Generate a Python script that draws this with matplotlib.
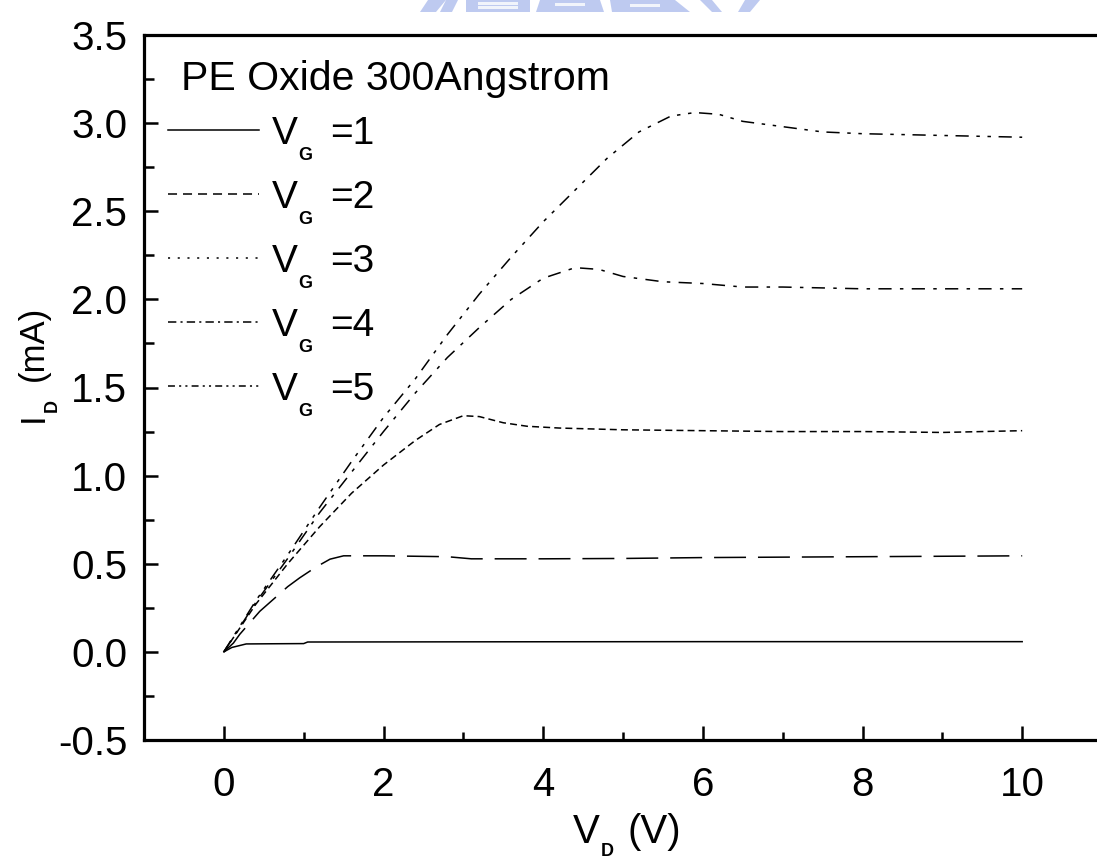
import matplotlib
matplotlib.use("Agg")
import matplotlib.pyplot as plt
from matplotlib.lines import Line2D
from matplotlib.patches import Polygon, Rectangle
from matplotlib.ticker import MultipleLocator, FormatStrFormatter

plt.rcParams['font.family'] = ['Liberation Sans', 'DejaVu Sans']
plt.rcParams['lines.scale_dashes'] = False

# Output characteristics I_D(V_D) for gate voltages 1..5 V
vd_g1 = [0.0, 0.1, 0.28, 0.6, 1.0, 1.05, 3.0, 6.0, 10.0]
id_g1 = [0.0, 0.025, 0.045, 0.046, 0.047, 0.056, 0.057, 0.058, 0.058]

vd_g2 = [0.0, 0.12, 0.2, 0.45, 0.8, 0.95, 1.15, 1.33, 1.5, 2.0, 2.8, 3.1, 4.0, 5.0, 6.0, 8.0, 10.0]
id_g2 = [0.0, 0.05, 0.1, 0.23, 0.37, 0.42, 0.48, 0.526, 0.545, 0.545, 0.54, 0.528, 0.528, 0.53, 0.535, 0.54, 0.545]

vd_g3 = [0.0, 0.4, 0.8, 1.2, 1.6, 2.0, 2.4, 2.7, 3.0, 3.2, 3.5, 3.8, 4.2, 5.0, 6.0, 7.0, 8.0, 9.0, 10.0]
id_g3 = [0.0, 0.27, 0.5, 0.71, 0.9, 1.06, 1.2, 1.29, 1.34, 1.335, 1.30, 1.28, 1.27, 1.26, 1.255, 1.25, 1.25, 1.245, 1.255]

vd_g4 = [0.0, 0.4, 0.8, 1.2, 1.6, 2.0, 2.4, 2.8, 3.2, 3.6, 4.0, 4.4, 4.7, 5.0, 5.5, 6.0, 6.5, 7.0, 8.0, 9.0, 10.0]
id_g4 = [0.0, 0.28, 0.53, 0.79, 1.02, 1.25, 1.47, 1.67, 1.84, 2.0, 2.12, 2.18, 2.17, 2.13, 2.10, 2.09, 2.07, 2.07, 2.06, 2.06, 2.06]

vd_g5 = [0.0, 0.4, 0.8, 1.2, 1.6, 2.0, 2.4, 2.8, 3.2, 3.6, 4.0, 4.4, 4.8, 5.2, 5.6, 5.9, 6.2, 6.5, 7.0, 7.5, 8.0, 9.0, 10.0]
id_g5 = [0.0, 0.29, 0.55, 0.82, 1.08, 1.33, 1.55, 1.80, 2.03, 2.24, 2.44, 2.62, 2.80, 2.95, 3.04, 3.06, 3.05, 3.01, 2.98, 2.95, 2.94, 2.93, 2.92]

series_x = [vd_g1, vd_g2, vd_g3, vd_g4, vd_g5]
series_y = [id_g1, id_g2, id_g3, id_g4, id_g5]
gate_labels = ['1', '2', '3', '4', '5']
legend_title = 'PE Oxide 300Angstrom'

x_ticks = [0, 2, 4, 6, 8, 10]
y_ticks = [-0.5, 0.0, 0.5, 1.0, 1.5, 2.0, 2.5, 3.0, 3.5]

# dash patterns (points) along the curves and in the legend keys
curve_dashes = [None, (23, 8.6), (5, 3), (9.5, 6, 2.5, 6), (9.5, 5.5, 2.5, 5.5, 2.5, 5.5)]
key_dashes = [None, (6.5, 4.3), (1.5, 5.5), (6, 3, 1.5, 3), (5, 3, 1.5, 3, 1.5, 3)]

W, H = 1097, 858
fig = plt.figure(figsize=(W / 100, H / 100), dpi=100)
fig.patch.set_facecolor('white')


def fx(px):
    return px / W


def fy(py):
    return 1 - py / H


# faint logo strip along the top edge
logo_c = '#a9b9ec'
for poly in [
    [(428, 0), (446, 0), (436, 12), (420, 12)],
    [(446, 0), (458, 0), (452, 12), (440, 12)],
    [(466, 0), (530, 0), (530, 12), (466, 12)],
    [(540, 0), (600, 0), (604, 12), (536, 12)],
    [(610, 0), (675, 0), (690, 12), (612, 12)],
    [(700, 0), (712, 0), (722, 12), (712, 12)],
    [(745, 0), (760, 0), (750, 12), (738, 12)],
]:
    fig.patches.append(Polygon([(fx(x), fy(y)) for x, y in poly], closed=True,
                               transform=fig.transFigure, facecolor=logo_c,
                               edgecolor='none', alpha=0.75))
for r in [(478, 2, 40, 2.5), (478, 6.5, 40, 2.5), (555, 3, 30, 3), (630, 4, 30, 3)]:
    fig.patches.append(Rectangle((fx(r[0]), fy(r[1] + r[3])), r[2] / W, r[3] / H,
                                 transform=fig.transFigure, facecolor='white',
                                 edgecolor='none', alpha=0.8))

ax = fig.add_axes([fx(144), fy(740), 958 / W, 705 / H])
ax.set_xlim(-1, 11)
ax.set_ylim(-0.5, 3.5)

lw = 1.1
for xs, ys, dsh in zip(series_x, series_y, curve_dashes):
    line, = ax.plot(xs, ys, color='black', lw=lw, solid_joinstyle='round')
    if dsh is not None:
        line.set_dashes(dsh)

for s in ['left', 'bottom', 'top']:
    ax.spines[s].set_linewidth(2.3)
ax.spines['right'].set_visible(False)

ax.xaxis.set_minor_locator(MultipleLocator(1))
ax.yaxis.set_minor_locator(MultipleLocator(0.25))
ax.set_xticks(x_ticks)
ax.set_yticks(y_ticks)
ax.yaxis.set_major_formatter(FormatStrFormatter('%.1f'))
ax.tick_params(which='both', direction='in', top=False, right=False, width=1.8, labelsize=29)
ax.tick_params(axis='x', which='major', length=10, pad=19)
ax.tick_params(axis='x', which='minor', length=5.5)
ax.tick_params(axis='y', which='major', length=10, pad=12)
ax.tick_params(axis='y', which='minor', length=7)

# axis titles: main letter, small bold subscript, unit
fig.text(fx(573), fy(843), 'V', fontsize=29, ha='left', va='baseline')
fig.text(fx(601), fy(856), 'D', fontsize=13, fontweight='bold', ha='left', va='baseline')
fig.text(fx(627), fy(843), '(V)', fontsize=29, ha='left', va='baseline')

fig.text(fx(43), fy(422), 'I', fontsize=25, ha='left', va='baseline',
         rotation=90, rotation_mode='anchor')
fig.text(fx(57), fy(412), 'D', fontsize=13, fontweight='bold', ha='left', va='baseline',
         rotation=90, rotation_mode='anchor')
fig.text(fx(43), fy(381), '(mA)', fontsize=25, ha='left', va='baseline',
         rotation=90, rotation_mode='anchor')

fig.text(fx(181), fy(90), legend_title, fontsize=29.5, ha='left', va='baseline')

handles = []
for dsh in key_dashes:
    h = Line2D([0], [0], color='black', lw=lw)
    if dsh is not None:
        h.set_dashes(dsh)
    handles.append(h)
leg = ax.legend(handles, ['V'] * len(gate_labels), loc='upper left',
                bbox_to_anchor=(fx(168), fy(116)),
                bbox_transform=fig.transFigure, frameon=False, fontsize=28,
                handlelength=2.34, handletextpad=0.33, labelspacing=0.72,
                borderpad=0, borderaxespad=0)

# gate subscript and value to the right of each legend "V"
for t, g in zip(leg.get_texts(), gate_labels):
    ax.annotate('G', xy=(1, 0), xycoords=t, xytext=(1, -8), textcoords='offset pixels',
                fontsize=13, fontweight='bold', ha='left', va='baseline', zorder=10,
                annotation_clip=False)
    ax.annotate('=' + g, xy=(1, 0), xycoords=t, xytext=(32, 8), textcoords='offset pixels',
                fontsize=28, ha='left', va='baseline', zorder=10,
                annotation_clip=False)

fig.savefig('out.png', dpi=100, facecolor='white')
